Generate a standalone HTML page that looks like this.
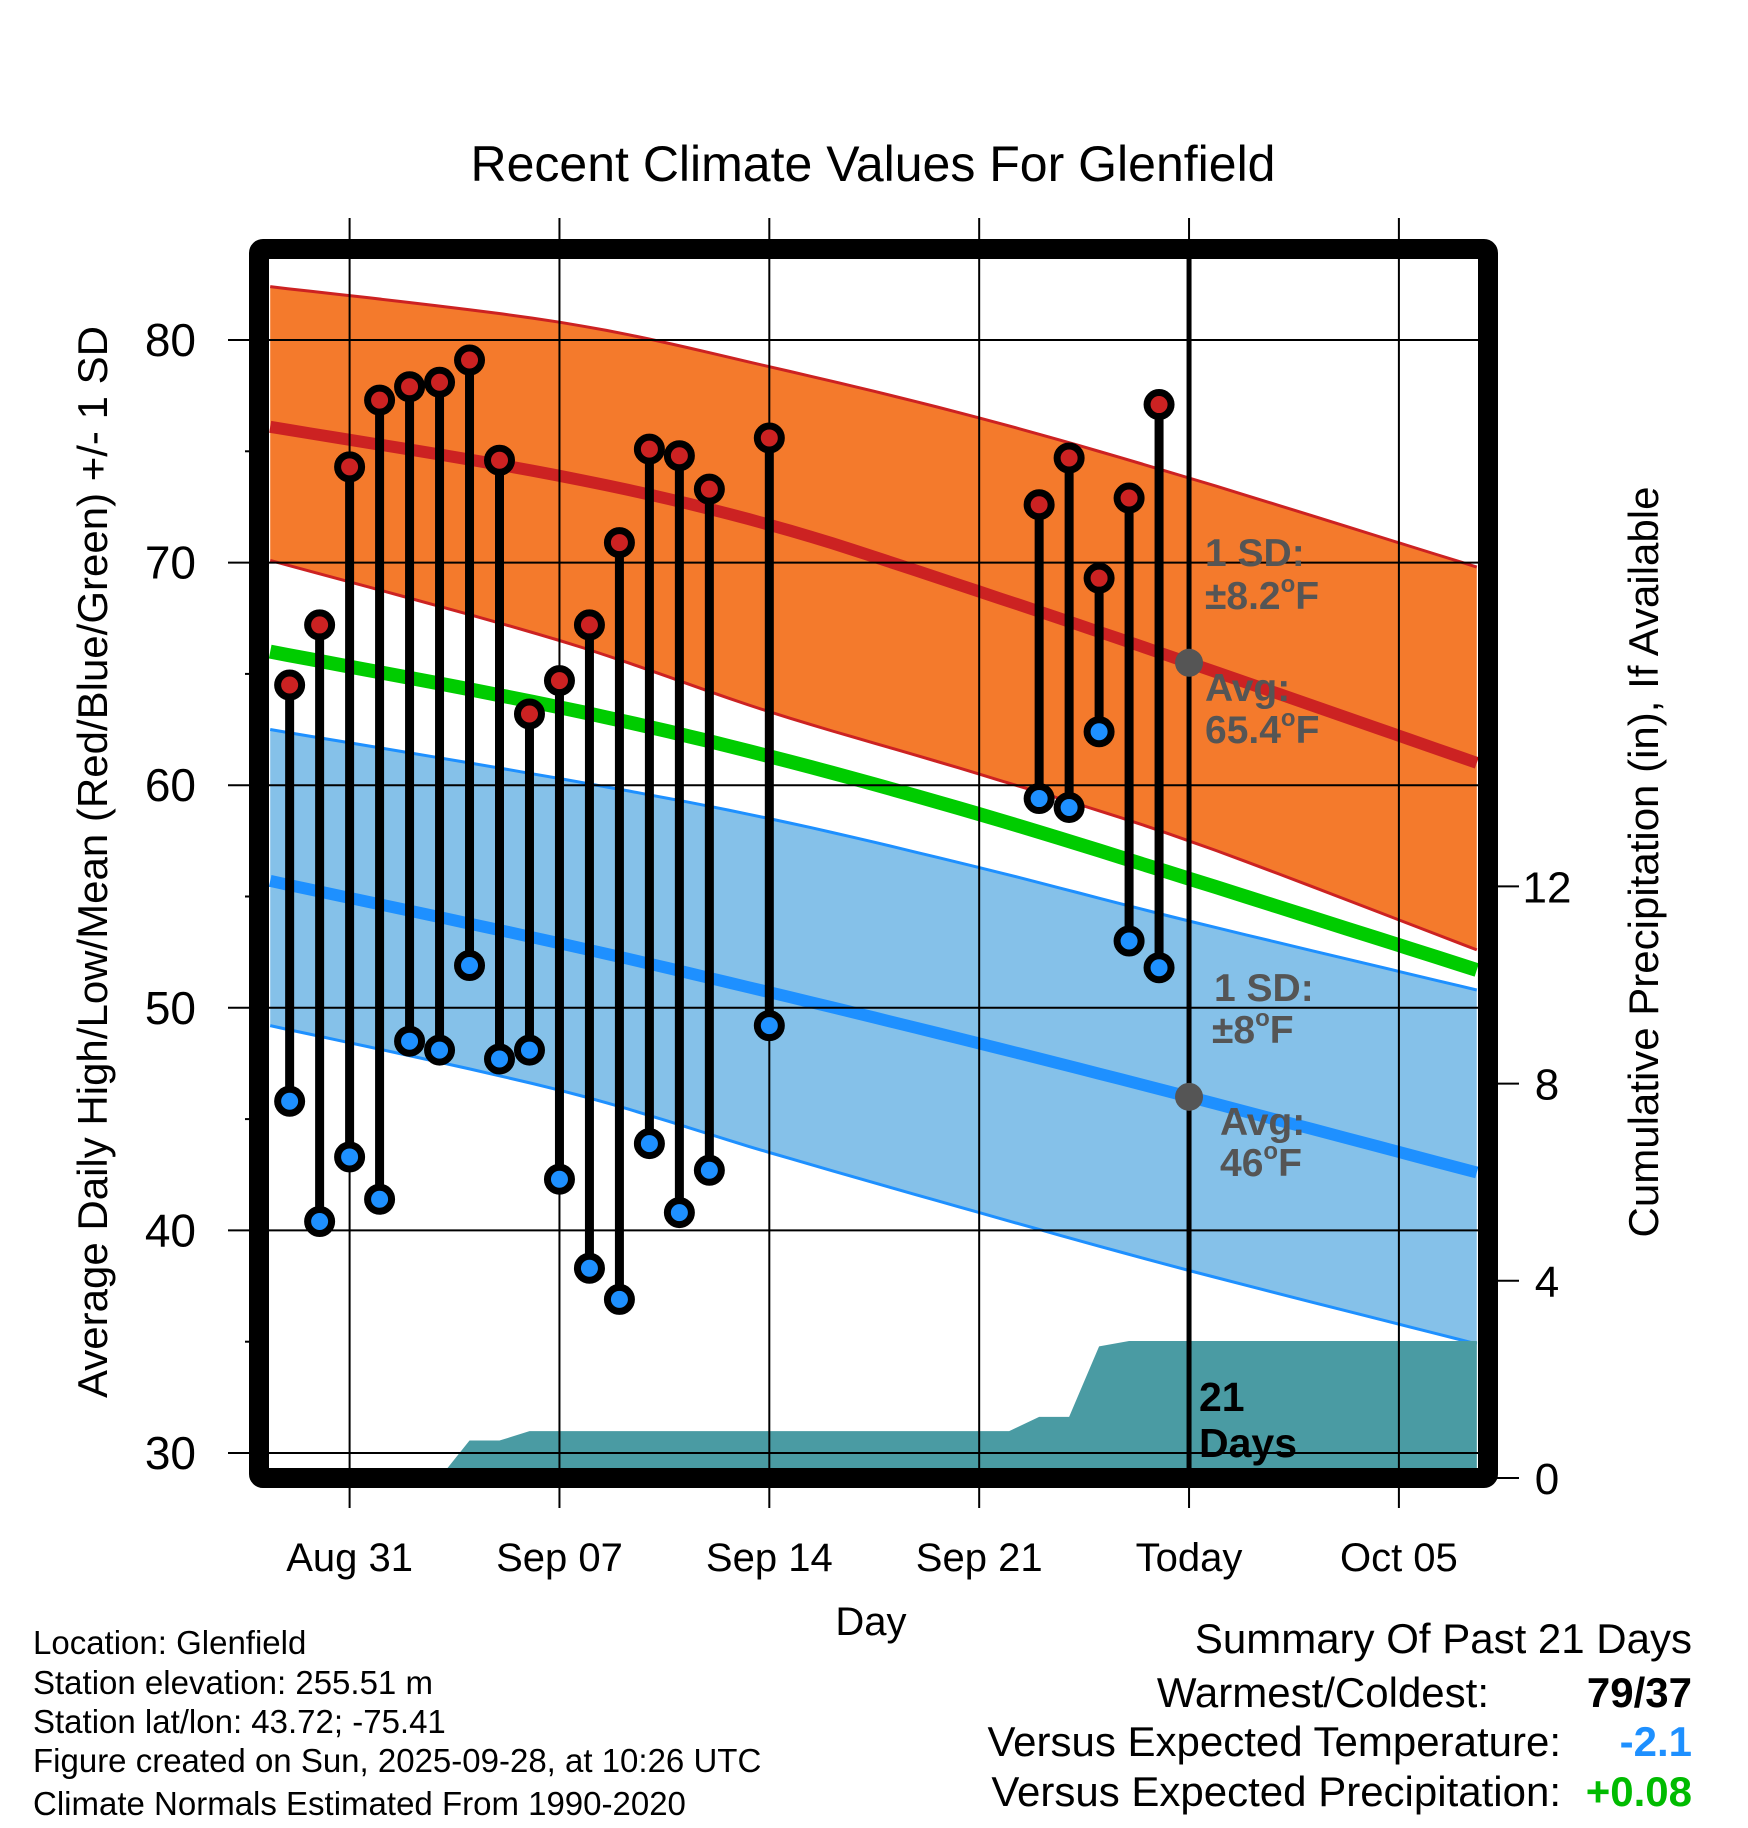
<!DOCTYPE html>
<html><head><meta charset="utf-8"><style>
html,body{margin:0;padding:0;background:#fff}
svg{display:block;font-family:"Liberation Sans",sans-serif}
</style></head><body>
<svg id="c" width="1748" height="1828" viewBox="0 0 1748 1828"></svg>
<script>
// ---- data ----
const dayLabels=["Aug 29","Aug 30","Aug 31","Sep 01","Sep 02","Sep 03","Sep 04","Sep 05","Sep 06","Sep 07","Sep 08","Sep 09","Sep 10","Sep 11","Sep 12","Sep 14","Sep 23","Sep 24","Sep 25","Sep 26","Sep 27"];
const dayOffsets=[-2,-1,0,1,2,3,4,5,6,7,8,9,10,11,12,14,23,24,25,26,27];
const highs=[64.5,67.2,74.3,77.3,77.9,78.1,79.1,74.6,63.2,64.7,67.2,70.9,75.1,74.8,73.3,75.6,72.6,74.7,69.3,72.9,77.1];
const lows=[45.8,40.4,43.3,41.4,48.5,48.1,51.9,47.7,48.1,42.3,38.3,36.9,43.9,40.8,42.7,49.2,59.4,59.0,62.4,53.0,51.8];
const normDays=[-2.65,7,14,21,28,37.6];
const highUpper=[82.4,80.8,78.8,76.5,73.8,69.8];
const highAvg=[76.1,73.9,71.7,68.7,65.5,61.0];
const highLower=[70.1,66.5,63.3,60.5,57.5,52.6];
const meanAvg=[66.0,63.5,61.3,58.7,55.8,51.7];
const lowUpper=[62.5,60.3,58.5,56.3,53.9,50.8];
const lowAvg=[55.7,52.9,50.7,48.4,46.0,42.6];
const lowLower=[49.2,46.3,43.5,40.8,38.2,34.9];
const precipDays=[3,4,5,6,22,23,24,25,26,37.6];
const precipCum=[0,0.76,0.76,0.95,0.95,1.24,1.24,2.67,2.78,2.78];
const xTickDays=[0,7,14,21,28,35];
const xTickLabels=["Aug 31","Sep 07","Sep 14","Sep 21","Today","Oct 05"];
const yTicks=[30,40,50,60,70,80];
const pTicks=[0,4,8,12];
// ---- axes ----
const X=d=>349.6+d*29.98;
const Y=t=>340+(80-t)*22.26;
const P=v=>1478-v*49.3;
const NS="http://www.w3.org/2000/svg";
const svg=document.getElementById('c');
function el(tag,attrs,parent){const e=document.createElementNS(NS,tag);for(const k in attrs)e.setAttribute(k,attrs[k]);(parent||svg).appendChild(e);return e;}
function txt(s,attrs,parent){const e=el('text',attrs,parent);e.textContent=s;return e;}
const defs=el('defs',{});
const cp=el('clipPath',{id:'pc'},defs);el('rect',{x:269,y:258,width:1210,height:1211},cp);
const g=el('g',{'clip-path':'url(#pc)'});
// smooth (Catmull-Rom) sampling of a normal curve
function smooth(arr){
  const out=[];const n=normDays.length;
  for(let i=0;i<n-1;i++){
    const p0=i>0?i-1:i,p3=i+2<n?i+2:i+1;
    for(let k=0;k<10;k++){
      const t=k/10,t2=t*t,t3=t2*t;
      const f=(a,b,c,d)=>0.5*(2*b+(-a+c)*t+(2*a-5*b+4*c-d)*t2+(-a+3*b-3*c+d)*t3);
      out.push([X(f(normDays[p0],normDays[i],normDays[i+1],normDays[p3])),Y(f(arr[p0],arr[i],arr[i+1],arr[p3]))]);
    }
  }
  out.push([X(normDays[n-1]),Y(arr[n-1])]);
  return out;
}
const fmt=pts=>pts.map(p=>p[0].toFixed(1)+','+p[1].toFixed(1)).join(' ');
function band(a,b,fill,name){
  const pts=smooth(a).concat(smooth(b).reverse());
  const p=el('polygon',{points:fmt(pts),fill:fill},g);
  
  
}
band(highUpper,highLower,'#f47a2c','high-sd-band');
band(lowUpper,lowLower,'#85c1e9','low-sd-band');
[[highUpper,'#cc2222',3,'high-upper-line'],[highLower,'#cc2222',3,'high-lower-line'],[lowUpper,'#1e90ff',3,'low-upper-line'],[lowLower,'#1e90ff',3,'low-lower-line'],[highAvg,'#cc2222',12,'avg-high-line'],[meanAvg,'#00cc00',14,'avg-mean-line'],[lowAvg,'#1e90ff',12,'avg-low-line']].forEach(([a,c,w,n])=>{
  const l=el('polyline',{points:fmt(smooth(a)),fill:'none',stroke:c,'stroke-width':w},g);
  
  
});
// precip fill
{let pts=precipDays.map((d,i)=>X(d)+','+P(precipCum[i]));
 pts.push(X(37.6)+','+P(0));pts.push(X(3)+','+P(0));
 const p=el('polygon',{points:pts.join(' '),fill:'#4a9ba3'},g);
 
 }
// grid
yTicks.forEach(t=>{
  const l=el('line',{x1:228,x2:1478,y1:Y(t),y2:Y(t),stroke:'#000','stroke-width':2});
  
  
  const tl=txt(String(t),{x:196,y:Y(t)+16,'font-size':46,'text-anchor':'end'});
  
  
});
[35,45,55,65,75,85].forEach(t=>{if(Y(t)>258)el('line',{x1:245,x2:259,y1:Y(t),y2:Y(t),stroke:'#000','stroke-width':2});});
xTickDays.forEach((d,i)=>{
  const l=el('line',{x1:X(d),x2:X(d),y1:218,y2:1508,stroke:'#000','stroke-width':2});
  
  
  const tl=txt(xTickLabels[i],{x:X(d),y:1571,'font-size':40,'text-anchor':'middle'});
  
  
});
pTicks.forEach(v=>{
  el('line',{x1:1488,x2:1519,y1:P(v),y2:P(v),stroke:'#000','stroke-width':2});
  const tl=txt(String(v),{x:1547,y:P(v)+16,'font-size':44,'text-anchor':'middle'});
  
  
});
// today line
el('line',{x1:X(28),x2:X(28),y1:259,y2:1470,stroke:'#000','stroke-width':5,});
// stems & dots
dayOffsets.forEach((d,i)=>{
  const s=el('line',{x1:X(d),x2:X(d),y1:Y(highs[i]),y2:Y(lows[i]),stroke:'#000','stroke-width':9});
  
  
});
dayOffsets.forEach((d,i)=>{
  const h=el('circle',{cx:X(d),cy:Y(highs[i]),r:12,fill:'#cc2222',stroke:'#000','stroke-width':7});
  
  
  const l=el('circle',{cx:X(d),cy:Y(lows[i]),r:12,fill:'#1e90ff',stroke:'#000','stroke-width':7});
  
  
});
el('circle',{cx:X(28),cy:Y(highAvg[4]),r:14,fill:'#555',});
el('circle',{cx:X(28),cy:Y(lowAvg[4]),r:14,fill:'#555',});
// frame
el('rect',{x:259,y:249,width:1229,height:1229,fill:'none',stroke:'#000','stroke-width':20,rx:4,});
</script>
<div style="position:absolute;left:0;top:0;width:1748px;height:1828px;pointer-events:none">
<svg width="1748" height="1828" style="position:absolute;left:0;top:0;font-family:'Liberation Sans',sans-serif">
<text x="873" y="181" font-size="50" text-anchor="middle">Recent Climate Values For Glenfield</text>
<g font-size="39" font-weight="bold" fill="#555">
<text x="1205" y="566">1 SD:</text><text x="1205" y="609">±8.2<tspan font-size="24" dy="-17">o</tspan><tspan dy="17">F</tspan></text>
<text x="1205" y="701">Avg:</text><text x="1205" y="743">65.4<tspan font-size="24" dy="-17">o</tspan><tspan dy="17">F</tspan></text>
</g>
<g font-size="39" font-weight="bold" fill="#555">
<text x="1214" y="1001">1 SD:</text><text x="1212" y="1043">±8<tspan font-size="24" dy="-17">o</tspan><tspan dy="17">F</tspan></text>
<text x="1220" y="1135">Avg:</text><text x="1220" y="1176">46<tspan font-size="24" dy="-17">o</tspan><tspan dy="17">F</tspan></text>
</g>
<g font-size="41" font-weight="bold" fill="#000">
<text x="1199" y="1411">21</text><text x="1199" y="1457">Days</text>
</g>
<text x="871" y="1635" font-size="40" text-anchor="middle">Day</text>
<text transform="translate(107,862) rotate(-90)" font-size="42" text-anchor="middle">Average Daily High/Low/Mean (Red/Blue/Green) +/- 1 SD</text>
<text transform="translate(1658,862) rotate(-90)" font-size="42" text-anchor="middle">Cumulative Precipitation (in), If Available</text>
<g font-size="33">
<text x="33" y="1654">Location: Glenfield</text>
<text x="33" y="1694">Station elevation: 255.51 m</text>
<text x="33" y="1733">Station lat/lon: 43.72; -75.41</text>
<text x="33" y="1772">Figure created on Sun, 2025-09-28, at 10:26 UTC</text>
<text x="33" y="1815">Climate Normals Estimated From 1990-2020</text>
</g>
<g font-size="42">
<text x="1692" y="1653" text-anchor="end">Summary Of Past 21 Days</text>
<text x="1489" y="1707" text-anchor="end">Warmest/Coldest:</text>
<text x="1692" y="1707" text-anchor="end" font-weight="bold">79/37</text>
<text x="1561" y="1756" text-anchor="end">Versus Expected Temperature:</text>
<text x="1692" y="1756" text-anchor="end" font-weight="bold" fill="#1e90ff">-2.1</text>
<text x="1561" y="1806" text-anchor="end">Versus Expected Precipitation:</text>
<text x="1692" y="1806" text-anchor="end" font-weight="bold" fill="#00bb00">+0.08</text>
</g>
</svg></div>
</body></html>
